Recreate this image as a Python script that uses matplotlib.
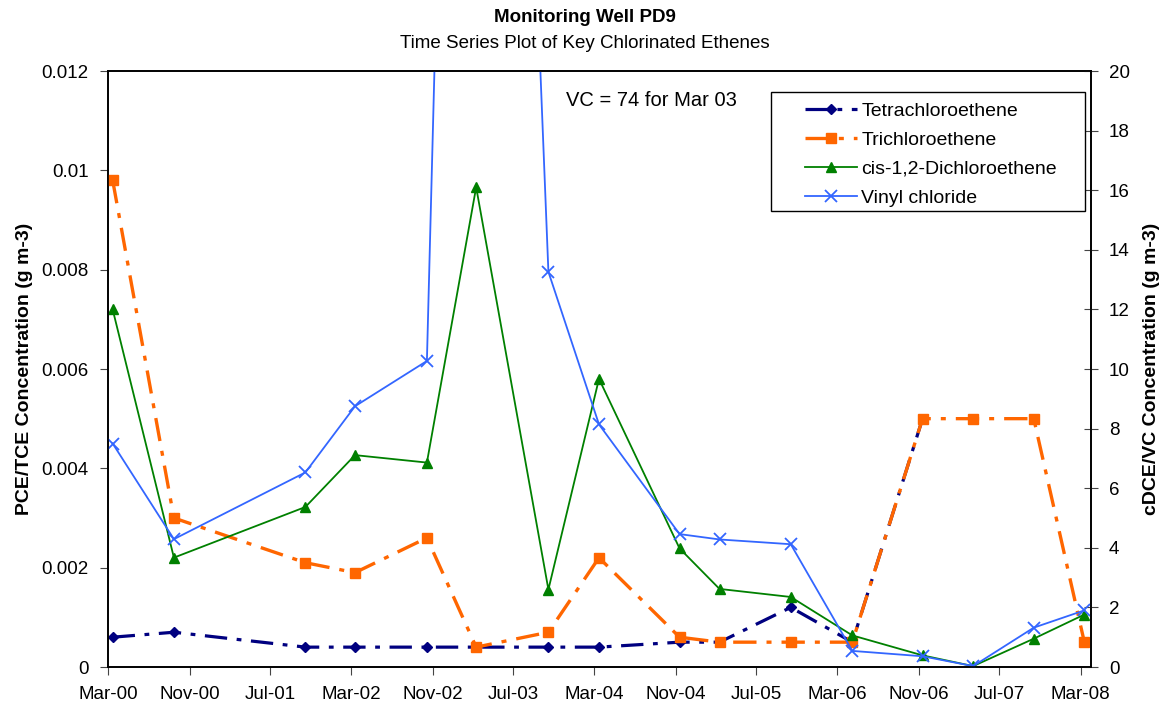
import numpy as np
import pandas as pd
import matplotlib
matplotlib.use('Agg')
import matplotlib.pyplot as plt
import matplotlib.dates as mdates
from matplotlib.patches import Rectangle

plt.rcParams['font.family'] = ['Liberation Sans', 'DejaVu Sans']

# ========== data
dates = ['2000-03-15', '2000-09-15', '2001-10-15', '2002-03-13', '2002-10-15',
         '2003-03-12', '2003-10-15', '2004-03-15', '2004-11-12', '2005-03-12',
         '2005-10-12', '2006-04-15', '2006-11-12', '2007-04-13', '2007-10-12',
         '2008-03-12']
pce = [0.0006, 0.0007, 0.0004, 0.0004, 0.0004, 0.0004, 0.0004, 0.0004, 0.0005, 0.0005,
       0.0012, 0.0005, 0.005, np.nan, np.nan, np.nan]
tce = [0.0098, 0.0030, 0.0021, 0.0019, 0.0026, 0.0004, 0.0007, 0.0022, 0.0006, 0.0005,
       0.0005, 0.0005, 0.0050, 0.0050, 0.0050, 0.0005]
cdce = [12.0, 3.67, 5.37, 7.11, 6.86, 16.1, 2.6, 9.67, 3.98, 2.62,
        2.35, 1.06, 0.39, 0.03, 0.95, 1.76]
vc = [7.5, 4.29, 6.53, 8.75, 10.27, 74.0, 13.26, 8.14, 4.46, 4.28,
      4.12, 0.54, 0.36, 0.03, 1.32, 1.90]

x = pd.to_datetime(dates)
tick_dates = pd.date_range('2000-03-01', periods=13, freq='8MS')

# ========== plot figure
fig = plt.figure(figsize=(11.7, 7.1), dpi=100)
ax = fig.add_axes([108/1170, 1-667/710, 983/1170, 596/710])
ax2 = ax.twinx()

l1, = ax.plot(x, pce, color='#000080', lw=2.3, marker='D', ms=5,
              dashes=(7, 3, 1.5, 3), label='Tetrachloroethene', zorder=2)
l2, = ax.plot(x, tce, color='#FF6600', lw=2.4, marker='s', ms=6.5,
              dashes=(7, 3, 1.5, 3), label='Trichloroethene', zorder=3)
l3, = ax2.plot(x, cdce, color='#008000', lw=1.3, marker='^', ms=7,
               label='cis-1,2-Dichloroethene')
l4, = ax2.plot(x, vc, color='#3366FF', lw=1.3, marker='x', ms=8, mew=1.3,
               label='Vinyl chloride')

ax.set_xlim(pd.Timestamp('2000-03-01'), pd.Timestamp('2008-04-01'))
ax.set_ylim(0, 0.012)
ax2.set_ylim(0, 20)
ax.set_yticks(np.arange(0, 0.0121, 0.002))
ax.set_yticklabels(['0', '0.002', '0.004', '0.006', '0.008', '0.01', '0.012'])
ax2.set_yticks(np.arange(0, 21, 2))
ax.set_xticks(tick_dates)
ax.xaxis.set_major_formatter(mdates.DateFormatter('%b-%y'))

ax.tick_params(axis='both', labelsize=13.5, direction='out', length=6,
               color='#444444', pad=8)
ax2.tick_params(axis='y', labelsize=13.5, direction='inout', length=10,
                color='#444444', pad=8)
for a in (ax, ax2):
    for s in a.spines.values():
        s.set_linewidth(1.2)
        s.set_color('black')

ax.set_ylabel('PCE/TCE Concentration (g m-3)', fontsize=14, fontweight='bold', labelpad=6)
ax2.set_ylabel('cDCE/VC Concentration (g m-3)', fontsize=14, fontweight='bold',
               rotation=90, labelpad=9)

fig.text(0.5, 1-17/710, 'Monitoring Well PD9', ha='center', va='center',
         fontsize=13.5, fontweight='bold')
fig.text(0.5, 1-43/710, 'Time Series Plot of Key Chlorinated Ethenes', ha='center',
         va='center', fontsize=13.5)

ax.text(0.466, 0.950, 'VC = 74 for Mar 03', transform=ax.transAxes, fontsize=14.5,
        va='center', ha='left')

# legend box drawn separately so the padding matches the reference
box = Rectangle((0.674, 0.765), 0.32, 0.20, transform=ax2.transAxes,
                facecolor='white', edgecolor='black', lw=1.0, zorder=4)
ax2.add_patch(box)
leg = ax2.legend([l1, l2, l3, l4], [h.get_label() for h in (l1, l2, l3, l4)],
                 loc='upper left', bbox_to_anchor=(0.709, 0.947), fontsize=14,
                 frameon=False, handlelength=2.7, labelspacing=0.58,
                 borderpad=0, borderaxespad=0, handletextpad=0.2)
leg.set_zorder(5)

fig.savefig('out.png', dpi=100)
